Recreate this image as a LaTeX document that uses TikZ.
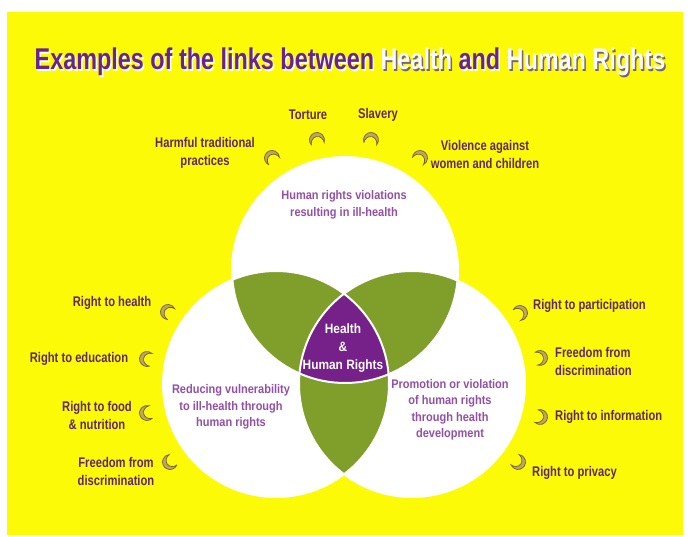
\documentclass[tikz,border=0pt]{standalone}
\usepackage{fontspec}
\usepackage{tikz}
\usetikzlibrary{positioning}

\newfontfamily\condfont[FakeStretch=0.80]{Liberation Sans}
\newfontfamily\innerfont[FakeStretch=0.88]{Liberation Sans}
\newfontfamily\titlefont[FakeStretch=0.78]{Liberation Sans}

\definecolor{bgyellow}{RGB}{252,250,6}
\definecolor{leafgreen}{RGB}{128,158,42}
\definecolor{hrpurple}{RGB}{118,32,138}
\definecolor{labelpurple}{RGB}{96,42,104}
\definecolor{textpurple}{RGB}{146,80,168}
\definecolor{titlepurple}{RGB}{104,36,140}
\definecolor{shadowgray}{RGB}{120,100,120}
\definecolor{hornfill}{RGB}{190,166,90}
\definecolor{horndraw}{RGB}{120,96,52}

% crescent mark: x, y, angle
\newcommand{\hornat}[3]{%
  \fill[hornfill, draw=horndraw, line width=0.7pt, shift={(#1,#2)}, rotate=#3]
    (60:7.5) arc[start angle=60, end angle=300, radius=7.5]
    arc[start angle=270, end angle=90, x radius=7.2, y radius=6.5] -- cycle;}

\begin{document}
\begin{tikzpicture}[x=1pt, y=-1pt,
    outer/.style={text=labelpurple, font=\condfont\bfseries\fontsize{14}{18}\selectfont, inner sep=0pt},
    inner/.style={text=textpurple, font=\innerfont\bfseries\fontsize{12.5}{16.5}\selectfont, align=center, inner sep=0pt},
    venn/.style={white, line width=2pt}]
  \useasboundingbox (0,0) rectangle (691,537);
  \fill[bgyellow] (7,12) rectangle (683,535);

  % Title
  \node[font=\titlefont\bfseries\fontsize{30}{32}\selectfont, inner sep=0pt] (titleshadow) at (351.5,63.5)
    {\color{white}Examples of the links between \color{shadowgray}Health \color{white}and \color{shadowgray}Human Rights};
  \node[font=\titlefont\bfseries\fontsize{30}{32}\selectfont, inner sep=0pt] (title) at (350,62)
    {\color{titlepurple}Examples of the links between \color{white}Health \color{titlepurple}and \color{white}Human Rights};

  % Circles
  \coordinate (ctop) at (345,270);
  \coordinate (cleft) at (276,384);
  \coordinate (cright) at (412,384);
  \fill[white] (ctop) circle[radius=113];
  \fill[white] (cleft) circle[radius=113];
  \fill[white] (cright) circle[radius=113];
  \begin{scope}
    \clip (ctop) circle[radius=113];
    \fill[leafgreen] (cleft) circle[radius=113];
    \fill[leafgreen] (cright) circle[radius=113];
  \end{scope}
  \begin{scope}
    \clip (cleft) circle[radius=113];
    \fill[leafgreen] (cright) circle[radius=113];
  \end{scope}
  \begin{scope}
    \clip (ctop) circle[radius=113];
    \clip (cleft) circle[radius=113];
    \fill[hrpurple] (cright) circle[radius=113];
  \end{scope}
  \draw[venn] (ctop) circle[radius=113];
  \draw[venn] (cleft) circle[radius=113];
  \draw[venn] (cright) circle[radius=113];

  % Circle texts
  \node[inner] (violations) at (344,205) {Human rights violations\\resulting in ill-health};
  \node[inner] (reducing) at (231,407) {Reducing vulnerability\\to ill-health through\\human rights};
  \node[inner] (promotion) at (450,410) {Promotion or violation\\of human rights\\through health\\development};
  \node[text=white, font=\innerfont\bfseries\fontsize{13.5}{18}\selectfont, align=center, inner sep=0pt] (hhr) at (343,348)
    {Health\\\&\\Human Rights};

  % Outer labels
  \node[outer] (torture) at (308,115) {Torture};
  \node[outer] (slavery) at (378,115) {Slavery};
  \node[outer, align=center] (harmful) at (205,153) {Harmful traditional\\practices};
  \node[outer, align=center] (violence) at (485,154) {Violence against\\women and children};
  \node[outer] (rhealth) at (112,303) {Right to health};
  \node[outer] (reducation) at (79,359) {Right to education};
  \node[outer, align=center] (rfood) at (97,415) {Right to food\\\& nutrition};
  \node[outer, align=center] (freedoml) at (116,471) {Freedom from\\discrimination};
  \node[outer, anchor=west] (rparticipation) at (533,306) {Right to participation};
  \node[outer, anchor=west, align=left] (freedomr) at (555,361) {Freedom from\\discrimination};
  \node[outer, anchor=west] (rinformation) at (555,417) {Right to information};
  \node[outer, anchor=west] (rprivacy) at (532,473) {Right to privacy};

  % Marks
  \foreach \mx/\my/\ang in {272/158/-56, 317/140/-78, 371/140/-101, 420/158/-124,
                            168/312/-34, 147/359/-12, 147/413/14, 170/462/36,
                            520/313/214, 540/358/191, 540/417/166, 518/462/143}
    \hornat{\mx}{\my}{\ang};
\end{tikzpicture}
\end{document}
